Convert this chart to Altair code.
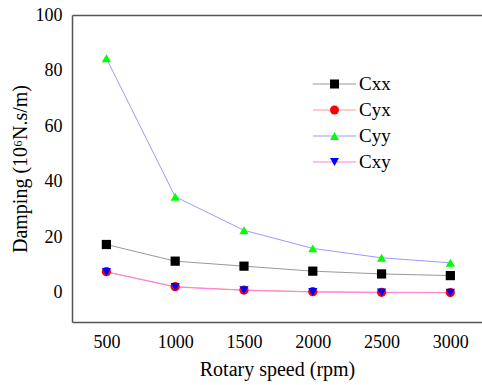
import altair as alt
import pandas as pd

speeds = [500, 1000, 1500, 2000, 2500, 3000]
series_order = ["Cxx", "Cyx", "Cyy", "Cxy"]
cxx = [17.4, 11.4, 9.6, 7.8, 6.8, 6.2]
cyx = [7.6, 2.2, 1.0, 0.4, 0.2, 0.1]
cyy = [84.4, 34.6, 22.5, 16.0, 12.6, 10.8]
cxy = [7.5, 2.1, 0.9, 0.3, 0.1, 0.0]

line_colors = {"Cxx": "#999999", "Cyx": "#ff9999", "Cyy": "#9999ff", "Cxy": "#ff80e0"}
marker_colors = ["#000000", "#ff0000", "#00ff00", "#0000ff"]
marker_shapes = ["square", "circle", "triangle-up", "triangle-down"]

# line scale uses a different domain order (legend order fixed via values)
line_domain = ["Cxy", "Cxx", "Cyx", "Cyy"]

rows = []
for name, vals in zip(series_order, [cxx, cyx, cyy, cxy]):
    for s, v in zip(speeds, vals):
        rows.append({"speed": s, "value": v, "series": name})
df = pd.DataFrame(rows)

FONT = "Liberation Serif"
xscale = alt.Scale(domain=[250, 3230], nice=False, zero=False)
yscale = alt.Scale(domain=[-10.5, 100], nice=False, zero=False)

LX, LY = 253, 59.5

lines = alt.Chart(df).mark_line(strokeWidth=1).encode(
    x=alt.X("speed:Q", scale=xscale,
            axis=alt.Axis(values=speeds, title="Rotary speed (rpm)", grid=False,
                          ticks=False, tickSize=0, labelPadding=11, titlePadding=8,
                          domainColor="#555555", domainWidth=1.5, format="d")),
    y=alt.Y("value:Q", scale=yscale,
            axis=alt.Axis(values=[0, 20, 40, 60, 80, 100], title="Damping (10⁶N.s/m)",
                          grid=False, ticks=False, tickSize=0, labelPadding=10,
                          titlePadding=5, domainColor="#555555", domainWidth=1.5)),
    color=alt.Color("series:N",
                    scale=alt.Scale(domain=line_domain,
                                    range=[line_colors[k] for k in line_domain]),
                    legend=alt.Legend(orient="none", legendX=LX, legendY=LY,
                                      values=series_order,
                                      title=None, symbolType="M-4.8,0H4.8",
                                      symbolSize=81, symbolStrokeWidth=1,
                                      labelOffset=15, rowPadding=6, padding=0)),
    detail="series:N",
)

marker_legend = alt.Legend(orient="none", legendX=LX, legendY=LY,
                           title=None, symbolSize=81, labelOpacity=0,
                           labelOffset=15, rowPadding=6, padding=0,
                           symbolStrokeWidth=0, symbolOpacity=1)

points = alt.Chart(df).mark_point(filled=True, size=85, opacity=1).encode(
    x=alt.X("speed:Q", scale=xscale,
            axis=alt.Axis(orient="top", labels=False, ticks=False, tickSize=0,
                          title=None, grid=False, domainColor="#555555",
                          domainWidth=1.5)),
    y=alt.Y("value:Q", scale=yscale),
    fill=alt.Fill("series:N",
                  scale=alt.Scale(domain=series_order, range=marker_colors),
                  legend=marker_legend),
    shape=alt.Shape("series:N",
                    scale=alt.Scale(domain=series_order, range=marker_shapes),
                    legend=marker_legend),
)

chart = alt.layer(lines, points).resolve_axis(x="independent").properties(
    width=410, height=307,
    autosize=alt.AutoSizeParams(type="none"),
    padding={"left": 72, "top": 15, "right": 0, "bottom": 63},
    background="white",
).configure_view(stroke=None).configure_axis(
    labelFont=FONT, titleFont=FONT, labelFontSize=18, titleFontSize=20,
    labelColor="black", titleColor="black", titleFontWeight="normal",
).configure_legend(
    labelFont=FONT, labelFontSize=19, labelColor="black",
)

chart.save("out.html", embed_options={"renderer": "svg", "actions": False})
